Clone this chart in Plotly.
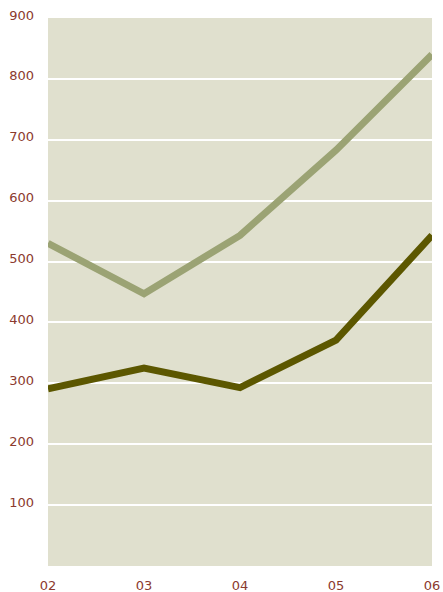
import plotly.graph_objects as go

years = ["02", "03", "04", "05", "06"]
light_vals = [530, 447, 543, 683, 840]
dark_vals = [291, 325, 293, 371, 543]
y_ticks = [100, 200, 300, 400, 500, 600, 700, 800, 900]

x_pos = list(range(len(years)))

fig = go.Figure()
fig.add_trace(go.Scatter(x=x_pos, y=light_vals, mode="lines",
                         line=dict(color="#9ba374", width=7), showlegend=False))
fig.add_trace(go.Scatter(x=x_pos, y=dark_vals, mode="lines",
                         line=dict(color="#5c5700", width=7), showlegend=False))

fig.update_layout(
    width=443, height=592,
    margin=dict(l=48, r=11, t=18, b=26),
    plot_bgcolor="#e0e0ce",
    paper_bgcolor="#ffffff",
    font=dict(family="DejaVu Sans", size=13, color="#8b3a2e"),
    xaxis=dict(range=[0, len(years) - 1], tickvals=x_pos, ticktext=years,
               showgrid=False, zeroline=False, showline=False, ticks="",
               automargin=False, ticklabelstandoff=10),
    yaxis=dict(range=[0, 900], tickvals=y_ticks, showgrid=True,
               gridcolor="#ffffff", gridwidth=2, zeroline=False, ticks="",
               ticklabelstandoff=13, ticklabelshift=-3, automargin=False),
)

# page body has a default 8px margin; drop it so the figure sits at 0,0
fig.write_html("out.html", config={"displayModeBar": False},
               post_script="document.body.style.margin='0';")
